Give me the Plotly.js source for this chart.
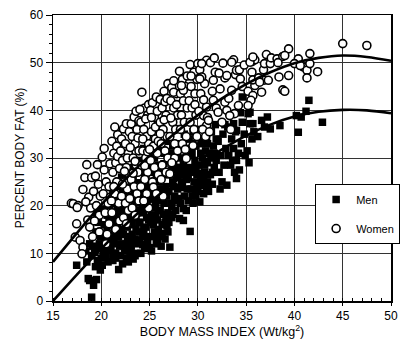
<!DOCTYPE html>
<html>
<head>
<meta charset="utf-8">
<script src="https://cdn.plot.ly/plotly-3.0.1.min.js"></script>
<style>html,body{margin:0;padding:0;background:#fff;}#chart{width:403px;height:343px;}</style>
</head>
<body>
<div id="chart"></div>
<script>
// Men: [BMI, % body fat]
const menPoints = [
[17.45,7.5],[18.5,8.2],[18.8,4.3],[19.2,3.3],[18.65,4.7],[19.0,0.8],[19.5,4.5],[18.4,10.5],[18.8,12.0],[19.0,9.5],
[19.3,10.2],[19.6,8.5],[19.8,12.0],[19.4,14.5],[19.9,6.5],[19.7,16.5],[19.1,11.5],[19.5,18.5],
[19.6,11.0],[19.9,13.5],[19.4,7.2],[20.0,9.0],
[20.7,8.2],[20.2,10.0],[20.5,12.0],[20.8,14.0],[20.3,16.0],[20.6,18.0],[20.9,20.0],[20.1,7.5],[20.4,13.0],[20.7,10.8],[20.95,16.8],[20.2,19.2],
[20.3,11.2],[20.6,15.2],[20.9,12.5],[20.5,9.5],[20.8,17.5],
[21.8,6.6],[21.2,8.5],[21.5,10.0],[21.9,11.5],[21.3,13.0],[21.6,14.5],[21.1,16.0],[21.4,17.5],[21.7,19.0],[21.9,21.0],[21.2,23.0],[21.5,9.0],[21.8,13.5],[21.3,20.5],[21.6,12.0],[21.0,11.0],
[21.0,14.0],[21.2,10.0],[21.4,15.5],[21.7,16.5],[21.9,18.0],[21.5,21.8],[21.8,24.0],
[22.2,7.8],[22.6,9.0],[22.9,10.5],[22.3,12.0],[22.7,13.5],[22.1,15.0],[22.5,16.5],[22.8,18.0],[22.4,19.5],[22.9,21.5],[22.2,23.5],[22.6,25.0],[22.8,8.2],[22.4,11.0],[22.7,15.5],[22.1,18.8],[22.9,13.0],
[22.0,9.5],[22.3,14.0],[22.5,10.5],[22.7,12.0],[22.9,16.5],[22.3,20.5],[22.5,22.5],[22.8,24.0],[22.1,26.0],
[23.3,8.8],[23.7,10.0],[23.1,11.5],[23.5,13.0],[23.9,14.5],[23.2,16.0],[23.6,17.5],[23.8,19.0],[23.4,20.5],[23.1,22.0],[23.7,23.5],[23.3,25.5],[23.9,27.0],[23.5,9.5],[23.8,12.0],[23.2,14.0],[23.6,21.2],[23.4,26.8],
[23.0,10.2],[23.3,12.8],[23.6,15.0],[23.9,16.5],[23.1,18.0],[23.7,18.5],[23.4,22.8],[23.8,24.8],[23.1,28.0],[23.6,29.0],
[24.1,10.0],[24.5,11.0],[24.8,12.5],[24.3,14.0],[24.6,15.5],[24.9,17.0],[24.2,18.5],[24.7,20.0],[24.4,21.5],[24.1,23.0],[24.8,24.5],[24.5,26.0],[24.2,27.5],[24.9,29.0],[24.6,30.5],[24.3,11.8],[24.7,13.5],[24.0,16.5],[24.4,19.0],
[24.0,12.8],[24.4,15.0],[24.7,17.5],[24.2,20.2],[24.9,21.5],[24.4,24.0],[24.7,27.5],[24.1,29.5],[24.4,32.0],
[25.2,10.5],[25.7,12.0],[25.4,13.5],[25.9,15.0],[25.1,16.5],[25.6,18.0],[25.3,19.5],[25.8,21.0],[25.5,22.5],[25.1,24.0],[25.7,25.5],[25.3,27.0],[25.9,28.5],[25.5,30.0],[25.2,31.5],[25.8,12.5],[25.4,16.0],[25.6,20.2],
[25.0,11.2],[25.5,14.5],[25.8,17.0],[25.2,18.0],[25.9,19.0],[25.4,21.5],[25.9,23.5],[25.3,23.0],[25.6,27.5],[25.8,32.0],[25.1,33.0],
[26.2,11.5],[26.6,13.0],[26.9,14.5],[26.3,16.0],[26.7,17.5],[26.1,19.0],[26.5,20.5],[26.8,22.0],[26.4,23.5],[26.1,25.0],[26.7,26.5],[26.3,28.0],[26.9,29.5],[26.5,31.0],[26.2,32.5],[26.8,15.8],[26.4,18.2],
[26.0,13.5],[26.3,14.2],[26.6,16.5],[26.9,18.5],[26.2,21.5],[26.7,24.0],[26.0,27.0],[26.5,28.8],[26.8,33.5],
[27.1,11.3],[27.3,17.5],[27.7,19.0],[27.2,20.5],[27.6,22.0],[27.9,23.5],[27.4,25.0],[27.1,26.5],[27.8,28.0],[27.5,29.5],[27.2,31.0],[27.7,33.0],[27.4,18.2],
[27.0,16.5],[27.3,19.8],[27.6,21.0],[27.0,23.0],[27.5,24.0],[27.8,26.0],[27.3,27.5],[27.9,30.5],[27.4,32.5],
[28.1,17.3],[28.5,19.4],[28.5,16.9],[28.8,19.0],[28.2,20.5],[28.6,22.0],[28.9,23.5],[28.3,25.0],[28.7,26.5],[28.1,28.0],[28.5,29.5],[28.8,31.0],[28.4,32.5],[28.9,34.0],[28.2,23.8],
[28.0,21.5],[28.4,24.0],[28.8,25.5],[28.0,26.5],[28.6,28.0],[28.2,30.0],[28.9,32.0],[28.6,35.0],
[29.2,14.6],[29.5,20.5],[29.8,22.0],[29.3,23.5],[29.6,25.0],[29.9,26.5],[29.2,28.0],[29.7,29.5],[29.4,31.0],[29.8,32.5],[29.1,34.0],[29.5,35.5],[29.9,24.0],
[29.0,21.0],[29.4,22.0],[29.7,23.0],[29.0,25.8],[29.4,27.0],[29.8,28.0],[29.0,30.5],[29.5,33.0],
[30.2,20.8],[30.6,22.5],[30.9,24.0],[30.3,25.5],[30.7,27.0],[30.1,28.5],[30.5,30.0],[30.8,31.5],[30.4,33.0],[30.9,34.5],[30.2,36.0],[30.6,26.0],
[30.0,23.0],[30.4,24.2],[30.0,26.8],[30.7,28.5],[30.3,31.0],[30.6,33.5],
[31.1,23.0],[31.5,24.5],[31.9,29.5],[31.3,26.5],[31.7,28.0],[31.2,31.0],[31.6,32.5],[31.9,34.0],[31.4,35.5],[31.8,37.0],
[31.0,25.0],[31.5,27.0],[31.0,29.0],[31.4,30.0],[31.7,31.0],[31.0,33.0],
[32.5,25.0],[32.2,27.0],[32.7,28.5],[32.4,30.5],[32.9,32.0],[32.1,33.5],[32.6,35.0],[32.8,37.0],[32.3,23.5],
[33.0,24.3],[33.8,27.0],[33.4,28.5],[33.2,30.5],[33.7,32.0],[33.5,34.0],[33.9,35.5],[33.1,36.5],[33.6,29.5],[33.7,37.2],
[34.0,25.7],[34.5,33.0],[34.0,29.5],[34.2,31.0],[34.8,35.0],[34.3,27.5],[34.9,30.5],[34.6,37.5],[34.6,42.8],[34.0,35.8],[34.4,39.5],
[35.4,37.2],[35.4,39.6],[35.2,39.3],[35.7,37.2],[35.6,34.0],[35.1,31.5],[35.8,35.5],[35.3,29.0],
[36.6,37.9],[37.5,36.1],[38.5,36.8],[36.2,34.5],[36.9,36.5],[37.2,38.6],
[40.2,38.9],[40.7,38.6],[41.5,42.1],[41.2,39.8],[42.9,37.5],[40.4,35.4]
];
// Women: [BMI, % body fat]
const womenPoints = [
[16.9,20.5],[17.1,20.4],[17.6,20.0],[17.5,19.6],[17.45,16.2],[17.3,13.4],[17.8,12.7],[18.1,11.3],[18.0,9.9],
[18.1,23.4],[18.3,25.9],[18.5,28.6],[18.6,17.0],[18.8,15.5],[18.7,21.8],[18.9,19.5],[18.4,20.8],
[19.0,25.9],[19.6,28.6],[19.2,23.0],[19.5,20.0],[19.8,18.0],[19.3,16.8],[19.7,24.5],[19.9,22.0],[19.4,26.2],[19.1,13.5],[19.8,14.5],
[20.1,30.2],[20.3,27.5],[20.5,25.0],[20.2,22.5],[20.7,20.5],[20.4,18.5],[20.8,16.2],[20.6,14.0],[20.9,28.8],[20.3,32.0],[20.8,24.0],[20.5,12.0],[20.95,21.8],
[21.1,33.5],[21.3,31.0],[21.5,29.0],[21.2,27.0],[21.7,34.9],[21.6,25.0],[21.4,22.5],[21.8,20.5],[21.1,18.5],[21.9,16.8],[21.5,15.0],[21.3,24.0],[21.7,30.3],[21.9,27.8],[21.05,21.0],[21.6,32.5],[21.4,36.5],
[22.3,36.1],[22.1,34.0],[22.5,33.0],[22.8,31.0],[22.2,29.5],[22.6,28.0],[22.9,26.5],[22.4,25.0],[22.7,23.5],[22.1,22.0],[22.5,20.5],[22.8,19.0],[22.3,17.5],[22.9,35.5],[22.6,37.2],[22.0,31.5],[22.4,27.2],[22.7,30.0],[22.2,24.5],[22.95,21.5],[22.6,16.2],
[23.1,37.2],[23.4,38.6],[23.7,36.0],[23.2,34.5],[23.5,33.0],[23.9,31.5],[23.3,30.0],[23.6,28.6],[23.8,27.0],[23.1,25.5],[23.4,24.0],[23.7,22.5],[23.9,21.0],[23.2,19.5],[23.5,18.0],[23.9,37.8],[23.6,39.8],[23.0,32.2],[23.3,26.8],[23.8,34.2],[23.5,29.3],
[24.2,43.8],[24.5,40.5],[24.8,39.0],[24.1,37.5],[24.4,36.0],[24.7,34.5],[24.9,33.0],[24.3,31.5],[24.6,30.0],[24.2,28.5],[24.8,27.0],[24.5,25.5],[24.1,24.0],[24.7,22.5],[24.4,21.0],[24.9,19.5],[24.6,38.2],[24.3,34.0],[24.8,31.3],[24.0,40.2],[24.5,28.4],[24.9,41.2],
[25.3,41.6],[25.7,42.8],[25.1,40.0],[25.5,38.5],[25.9,37.0],[25.2,35.5],[25.6,34.0],[25.4,32.5],[25.8,31.0],[25.1,29.5],[25.5,28.0],[25.9,26.5],[25.3,25.0],[25.4,23.9],[25.7,22.5],[25.2,38.5],[25.8,39.8],[25.9,33.5],[25.6,36.5],[25.0,31.8],
[26.1,42.3],[26.9,45.6],[26.5,44.0],[26.3,40.5],[26.7,39.0],[26.1,37.5],[26.4,36.0],[26.8,34.5],[26.2,33.0],[26.6,31.5],[26.9,30.0],[26.3,28.5],[26.7,27.0],[26.4,22.0],[26.1,35.1],[26.6,41.8],[26.2,25.5],[26.8,42.5],[26.5,38.0],
[27.1,26.7],[27.6,30.0],[27.3,44.8],[27.8,43.5],[27.2,42.0],[27.5,40.5],[27.9,39.0],[27.4,37.5],[27.7,36.0],[27.1,34.5],[27.6,33.0],[27.9,31.5],[27.3,29.0],[27.5,46.2],[27.8,41.2],[27.2,38.4],[27.5,43.8],
[28.1,48.2],[28.8,29.9],[28.4,46.5],[28.7,45.0],[28.2,43.5],[28.5,42.0],[28.9,40.5],[28.3,39.0],[28.6,37.5],[28.2,36.0],[28.8,34.5],[28.4,33.0],[28.7,31.8],[28.9,47.2],[28.5,44.2],[28.3,45.2],
[29.5,32.6],[29.2,49.6],[29.6,48.0],[29.9,46.5],[29.3,45.0],[29.7,43.5],[29.1,42.0],[29.4,40.5],[29.8,39.0],[29.2,37.5],[29.6,36.0],[29.9,34.5],[29.3,47.2],[29.7,41.2],[30.0,49.8],
[30.9,50.5],[30.7,45.6],[30.9,40.7],[30.6,38.9],[30.9,36.8],[30.5,36.0],[30.2,48.5],[30.4,47.0],[30.3,43.5],[30.6,42.2],[30.1,39.8],[30.8,34.5],[30.4,49.8],[30.2,46.6],
[31.8,48.0],[31.6,46.3],[31.6,42.1],[31.0,38.5],[31.1,37.9],[31.3,50.0],[31.5,44.0],[31.9,40.5],[31.2,35.5],[31.7,51.0],
[32.6,49.9],[32.8,46.8],[32.3,44.5],[32.8,41.7],[32.1,39.6],[33.0,40.0],[32.5,37.5],[32.2,47.8],[33.0,47.3],
[33.7,50.6],[33.5,44.2],[33.8,39.3],[33.3,38.9],[33.5,50.1],[33.9,47.5],[33.2,42.5],[33.4,36.0],
[34.0,48.4],[34.4,46.6],[34.3,48.5],[34.6,45.0],[34.2,41.0],[34.8,49.5],
[35.6,50.2],[35.9,50.6],[35.6,48.0],[35.4,50.1],[35.7,51.2],[35.9,45.2],[35.2,44.0],[35.7,43.1],[35.5,42.1],[35.2,41.0],[35.7,46.4],
[36.6,43.8],[36.8,46.3],[36.3,46.8],[36.4,45.9],[36.8,48.5],[36.9,49.8],
[37.1,51.7],[37.8,50.6],[37.5,49.8],[37.3,46.3],[37.6,51.0],
[38.2,50.8],[38.8,51.3],[38.4,47.0],[38.3,50.0],[38.8,44.3],
[39.4,52.9],[39.0,51.5],[39.4,47.3],[39.0,44.0],
[40.4,50.8],[40.0,49.8],[40.9,49.1],[40.6,49.4],
[41.3,48.4],[41.6,49.8],[41.6,51.9],[42.4,48.1],[41.3,46.8],
[45.0,54.0],[47.5,53.6]
];
// Fitted curves
const curveBMI   = [15, 17.5, 20, 22.5, 25, 27.5, 30, 32.5, 35, 37.5, 40, 42.5, 45, 47.5, 50];
const womenCurve = [8.2, 14.3, 20.2, 25.6, 30.5, 35.0, 39.0, 42.5, 45.5, 48.0, 49.9, 51.0, 51.5, 51.2, 50.4];
const menCurve   = [0.0, 5.6, 11.0, 16.0, 20.6, 24.8, 28.5, 31.8, 34.7, 37.0, 38.7, 39.7, 40.1, 40.0, 39.4];

const xTicks = [15, 20, 25, 30, 35, 40, 45, 50];
const yTicks = [0, 10, 20, 30, 40, 50, 60];

const FONT = 'Liberation Sans, Arial, Helvetica, sans-serif';

const traces = [
  {
    type: 'scatter', mode: 'markers', name: 'Men', legendgroup: 'm',
    x: menPoints.map(p => p[0]), y: menPoints.map(p => p[1]),
    marker: {symbol: 'square', size: 7.5, color: '#000'}
  },
  {
    type: 'scatter', mode: 'markers', name: 'Women', legendgroup: 'w',
    x: womenPoints.map(p => p[0]), y: womenPoints.map(p => p[1]),
    marker: {symbol: 'circle', size: 8, color: '#fff', line: {color: '#000', width: 1.6}}
  },
  {
    type: 'scatter', mode: 'lines', showlegend: false,
    x: curveBMI, y: womenCurve, line: {color: '#000', width: 2.6, shape: 'spline'}
  },
  {
    type: 'scatter', mode: 'lines', showlegend: false,
    x: curveBMI, y: menCurve, line: {color: '#000', width: 2.6, shape: 'spline'}
  }
];

const layout = {
  width: 403, height: 343,
  margin: {l: 53, r: 12, t: 15, b: 42, pad: 0, autoexpand: false},
  paper_bgcolor: '#fff', plot_bgcolor: '#fff',
  font: {family: FONT, size: 12, color: '#000'},
  showlegend: true,
  legend: {
    x: 1.027, y: 0.409, xanchor: 'right', yanchor: 'top',
    bgcolor: '#fff', bordercolor: '#000', borderwidth: 1,
    font: {family: FONT, size: 11, color: '#000'},
    traceorder: 'grouped', tracegroupgap: 10, itemwidth: 30
  },
  xaxis: {
    range: [15, 50], tickvals: xTicks, ticktext: xTicks.map(String),
    showgrid: true, gridcolor: '#333', gridwidth: 1,
    showline: true, linecolor: '#000', linewidth: 1.5, mirror: true,
    ticks: 'outside', ticklen: 3, tickcolor: '#000',
    minor: {dtick: 1, ticks: 'inside', ticklen: 3, tickcolor: '#000', showgrid: false},
    zeroline: false, automargin: false,
    tickfont: {family: FONT, size: 12, color: '#000'},
    title: {text: 'BODY MASS INDEX (Wt/kg<sup>2</sup>)', font: {family: FONT, size: 12.5, color: '#000'}, standoff: 5}
  },
  yaxis: {
    range: [0, 60], tickvals: yTicks, ticktext: yTicks.map(String),
    showgrid: true, gridcolor: '#333', gridwidth: 1,
    showline: true, linecolor: '#000', linewidth: 1.5, mirror: true,
    ticks: 'outside', ticklen: 6, tickcolor: '#000',
    minor: {dtick: 2, ticks: 'outside', ticklen: 3, tickcolor: '#000', showgrid: false},
    zeroline: false, automargin: false,
    tickfont: {family: FONT, size: 12, color: '#000'},
    title: {text: 'PERCENT BODY FAT (%)', font: {family: FONT, size: 12, color: '#000'}, standoff: 2}
  }
};

Plotly.newPlot('chart', traces, layout, {displayModeBar: false, staticPlot: true});
</script>
</body>
</html>
